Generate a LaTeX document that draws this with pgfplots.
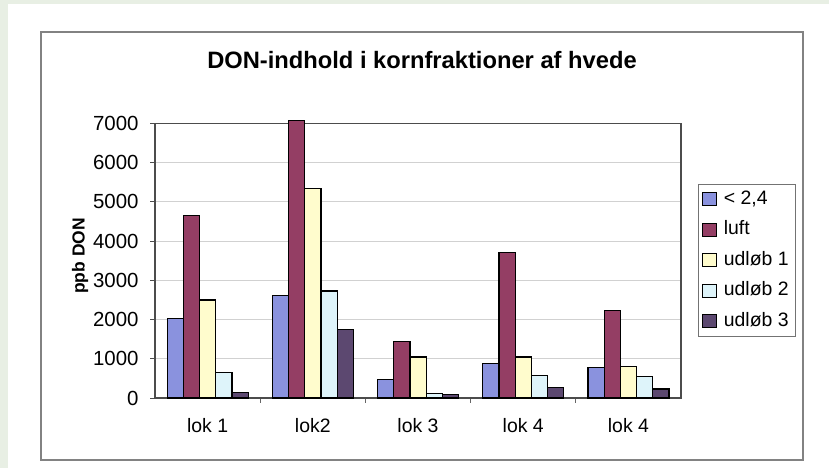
\documentclass[border=0pt]{standalone}
\usepackage{fontspec}
\setmainfont{Liberation Sans}
\usepackage{pgfplots}
\pgfplotsset{compat=1.18}
\definecolor{bgg}{RGB}{232,239,228}
\definecolor{boxc}{RGB}{130,130,130}
\definecolor{cA}{RGB}{138,146,222}
\definecolor{cB}{RGB}{148,62,100}
\definecolor{cC}{RGB}{255,252,205}
\definecolor{cD}{RGB}{222,244,250}
\definecolor{cE}{RGB}{92,72,112}
\begin{document}
\begin{tikzpicture}[x=1bp,y=1bp]
\fill[bgg] (0,0) rectangle (829,468);
\fill[white] (8,0) rectangle (829,464);
\draw[boxc, line width=1.4bp] (41,8) rectangle (803,436);
\node[anchor=base, font=\bfseries\fontsize{23.8}{26}\selectfont] at (422,399) {DON-indhold i kornfraktioner af hvede};
\node[rotate=90, font=\bfseries\fontsize{17.5}{20}\selectfont] at (80,212) {ppb DON};
\begin{axis}[
  at={(155bp,70bp)}, anchor=south west, scale only axis,
  width=526bp, height=274.5bp,
  ybar=0pt, bar width=16.2bp,
  xmin=-0.5, xmax=4.5, ymin=0, ymax=7000,
  clip=false,
  xtick={0,...,4}, xticklabels={lok 1, lok2, lok 3, lok 4, lok 4},
  minor xtick={0.5,1.5,2.5,3.5},
  ytick={0,1000,...,7000},
  major tick length=5bp, minor tick length=5bp,
  tick align=outside, xtick pos=bottom, ytick pos=left,
  ymajorgrids, grid style={black!18, line width=0.9bp},
  axis line style={draw=black!70, line width=1.1bp},
  tick style={black!70, line width=0.9bp},
  major x tick style={draw=none},
  minor x tick style={draw=black!60, line width=0.9bp},
  scaled y ticks=false,
  /pgf/number format/1000 sep={},
  /pgf/number format/assume math mode=true,
  xticklabel style={font=\fontsize{19.5}{21}\selectfont, yshift=-12bp},
  yticklabel style={font=\fontsize{20.5}{22}\selectfont, xshift=-8bp},
  every axis plot/.append style={draw=black, line width=1.2bp},
  every axis plot post/.append style={legend image code/.code={\draw[##1,draw=black,line width=0.9bp] (0bp,-6.5bp) rectangle (14bp,6.5bp); \path[draw=none,fill=none] (0bp,0bp) -- (18bp,0bp);}},
  legend style={at={(1.0323,0.7796)}, anchor=north west, draw=black!55, line width=0.8bp,
    font=\fontsize{19.5}{21}\selectfont, inner xsep=4bp, inner ysep=5bp,
    nodes={inner xsep=3bp, inner ysep=1bp, text height=14bp, text depth=4bp}, row sep=10.5bp},
  legend cell align=left,
]
\addplot[fill=cA] coordinates {(0,2020) (1,2620) (2,470) (3,880) (4,770)};
\addplot[fill=cB] coordinates {(0,4650) (1,7080) (2,1450) (3,3720) (4,2230)};
\addplot[fill=cC] coordinates {(0,2500) (1,5350) (2,1045) (3,1045) (4,810)};
\addplot[fill=cD] coordinates {(0,650) (1,2730) (2,110) (3,580) (4,540)};
\addplot[fill=cE] coordinates {(0,130) (1,1750) (2,85) (3,270) (4,230)};
\legend{{< 2,4}, luft, udløb 1, udløb 2, udløb 3}
\end{axis}
\end{tikzpicture}
\end{document}
